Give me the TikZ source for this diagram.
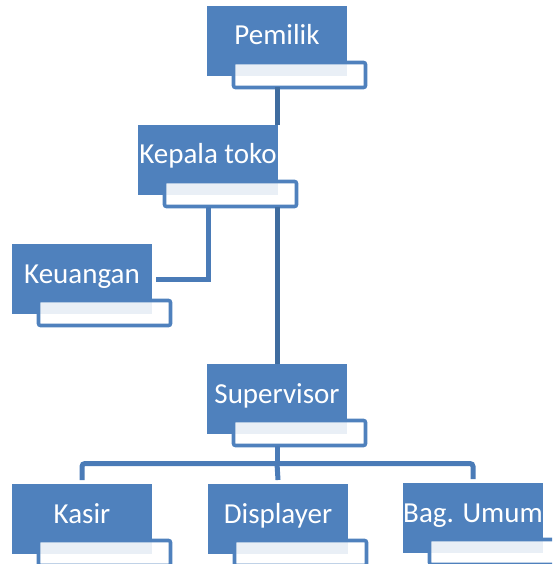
\documentclass[tikz,border=0pt]{standalone}
\usepackage{fontspec}
\setmainfont{Carlito}
\usetikzlibrary{positioning, calc}
\definecolor{unitblue}{HTML}{4F81BD}
\definecolor{linkblue}{HTML}{4A7BB7}
\definecolor{trunkblue}{HTML}{3F6C9F}

\begin{document}
\begin{tikzpicture}[x=1pt, y=-1pt, font=\fontsize{29}{34}\selectfont,
    unit/.style={fill=unitblue, text=white, minimum width=140pt, minimum height=70pt, inner sep=0pt, outer sep=0pt, text height=20pt, text depth=12pt},
    subbox/.style={draw=unitblue, line width=3.6pt, fill=white, fill opacity=0.88, rounded corners=2pt, minimum width=132pt, minimum height=25pt, inner sep=0pt, outer sep=0pt, anchor=north west},
    link/.style={draw=linkblue, line width=5pt},
    trunk/.style={draw=trunkblue, line width=5pt}
]
    \clip (0,0) rectangle (552,564);
    \node[unit] (pemilik) at (277,41) {Pemilik};
    \node[subbox] (pemilik-s) at ([xshift=26.5pt,yshift=13.5pt]pemilik.south west) {};
    \node[unit] (kepala) at (208,160) {Kepala toko};
    \node[subbox] (kepala-s) at ([xshift=26.5pt,yshift=13.5pt]kepala.south west) {};
    \node[unit] (keuangan) at (82,279) {Keuangan};
    \node[subbox] (keuangan-s) at ([xshift=26.5pt,yshift=13.5pt]keuangan.south west) {};
    \node[unit] (supervisor) at (277,399) {Supervisor};
    \node[subbox] (supervisor-s) at ([xshift=26.5pt,yshift=13.5pt]supervisor.south west) {};
    \node[unit] (kasir) at (82,519) {Kasir};
    \node[subbox] (kasir-s) at ([xshift=26.5pt,yshift=13.5pt]kasir.south west) {};
    \node[unit] (displayer) at (278,519) {Displayer};
    \node[subbox] (displayer-s) at ([xshift=26.5pt,yshift=13.5pt]displayer.south west) {};
    \node[unit] (bagumum) at (473,518) {Bag. Umum};
    \node[subbox] (bagumum-s) at ([xshift=26.5pt,yshift=13.5pt]bagumum.south west) {};
    \draw[trunk] (pemilik-s.south -| pemilik.south) -- (kepala.north -| pemilik.south);
    \draw[trunk] (kepala-s.south -| supervisor.north) -- (supervisor.north);
    \draw[link] (kepala-s.south -| kepala.south) |- ([xshift=4pt]keuangan.east);
    \draw[link] (supervisor-s.south -| supervisor.south) -- ++(0,18) coordinate (fork);
    \draw[link, rounded corners=3pt] ([yshift=4pt]kasir.north) |- (fork) -| ([yshift=4pt]bagumum.north);
    \draw[link] (fork) -- ([yshift=4pt]displayer.north);
\end{tikzpicture}
\end{document}
